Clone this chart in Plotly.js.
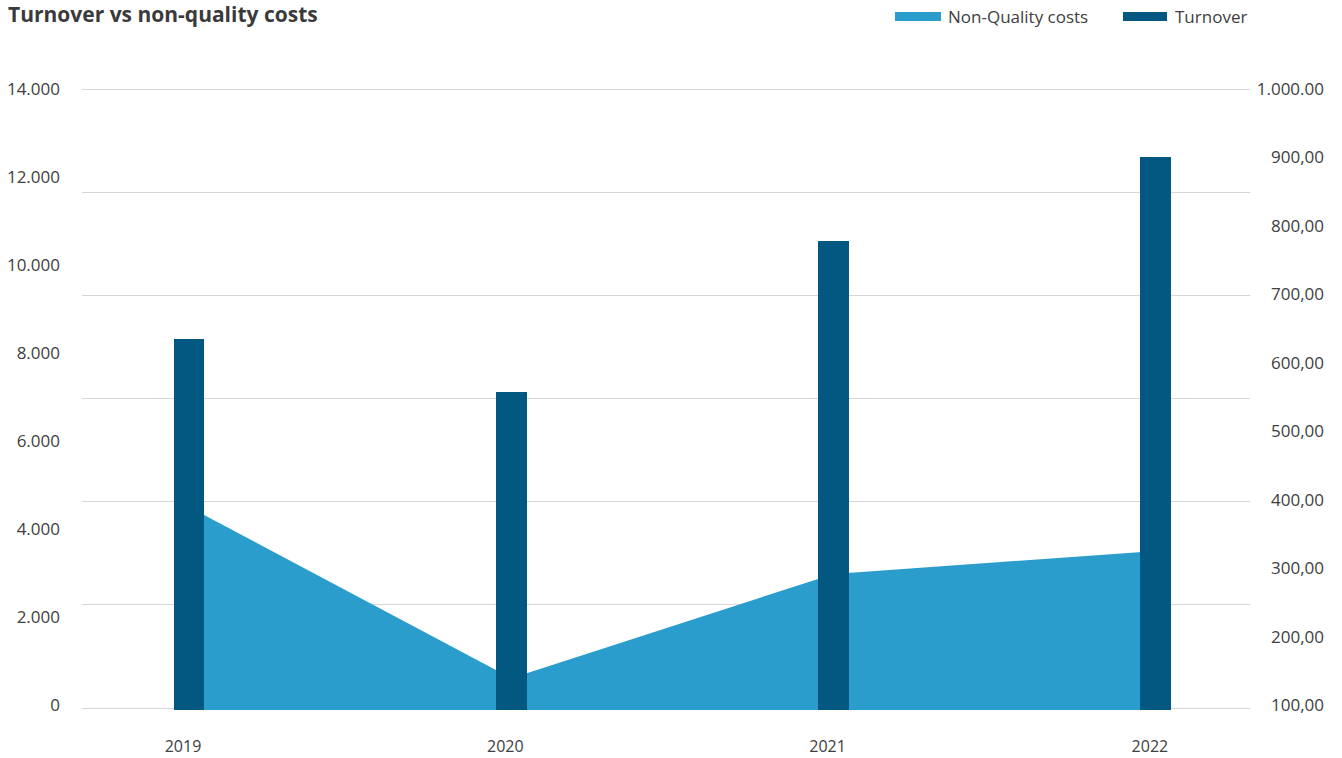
<!DOCTYPE html>
<html>
<head>
<meta charset="utf-8">
<script src="https://cdn.plot.ly/plotly-3.0.1.min.js"></script>
<style>
  html, body { margin: 0; padding: 0; background: #ffffff; }
  #chart { width: 1342px; height: 758px; }
</style>
</head>
<body>
<div id="chart"></div>
<script>
// ---- data ----
const years = ['2019', '2020', '2021', '2022'];
const nonQualityCosts = [4500, 610, 2980, 3500];
const turnover = [635, 557, 778, 901];
const seriesNames = ['Non-Quality costs', 'Turnover'];
const leftTickVals = [0, 2000, 4000, 6000, 8000, 10000, 12000, 14000];
const leftTickText = ['0', '2.000', '4.000', '6.000', '8.000', '10.000', '12.000', '14.000'];
const rightTickVals = [100, 200, 300, 400, 500, 600, 700, 800, 900, 1000];
const rightTickText = ['100,00', '200,00', '300,00', '400,00', '500,00', '600,00', '700,00', '800,00', '900,00', '1.000.00'];
const chartTitle = 'Turnover vs non-quality costs';

// ---- style ----
const W = 1342, H = 758;
const M = { l: 82, r: 18, t: 87, b: 48 };
const PW = W - M.l - M.r, PH = H - M.t - M.b;
const xDomainEnd = 1168 / PW;
const LEFT_MIN = -113.6, LEFT_MAX = 14045.5;
const RIGHT_MIN = 92.69, RIGHT_MAX = 1002.92;
const GRID_MIN = -0.0194, GRID_MAX = 6.0194;
const C_AREA = '#2B9DCD';
const C_BAR = '#035882';
const C_TEXT = '#404040';
const FONT = 'Open Sans, Noto Sans, sans-serif';

const px2x = p => (p - M.l) / PW;
const px2y = p => (H - M.b - p) / PH;

const traces = [
  { // gridline helper axis (no marks)
    x: [], y: [], type: 'scatter', mode: 'lines', xaxis: 'x', yaxis: 'y3',
    showlegend: false, hoverinfo: 'skip'
  },
  { // baseline for the area fill (axis bottom)
    x: years, y: years.map(() => LEFT_MIN), type: 'scatter', mode: 'lines',
    line: { width: 0, color: C_AREA },
    xaxis: 'x', yaxis: 'y', showlegend: false, hoverinfo: 'skip'
  },
  {
    x: years, y: nonQualityCosts, name: seriesNames[0], type: 'scatter', mode: 'lines',
    line: { width: 0, color: C_AREA },
    fill: 'tonexty', fillcolor: C_AREA, xaxis: 'x', yaxis: 'y', showlegend: false
  },
  {
    x: years, y: turnover, name: seriesNames[1], type: 'bar',
    width: 0.096, marker: { color: C_BAR, line: { width: 0 } },
    xaxis: 'x', yaxis: 'y2', showlegend: false
  }
];

// custom legend
const legendItems = [
  { name: seriesNames[0], color: C_AREA, x0: 895, x1: 941, tx: 946 },
  { name: seriesNames[1], color: C_BAR, x0: 1123, x1: 1167, tx: 1173 }
];
const shapes = legendItems.map(it => ({
  type: 'rect', xref: 'paper', yref: 'paper',
  x0: px2x(it.x0), x1: px2x(it.x1), y0: px2y(21), y1: px2y(12),
  fillcolor: it.color, line: { width: 0 }
}));
const annotations = legendItems.map(it => ({
  xref: 'paper', yref: 'paper', x: px2x(it.tx), y: px2y(16),
  xanchor: 'left', yanchor: 'middle', showarrow: false,
  text: it.name, font: { family: FONT, size: 17, color: C_TEXT }
}));

const layout = {
  width: W, height: H,
  margin: M,
  paper_bgcolor: '#ffffff', plot_bgcolor: 'rgba(0,0,0,0)',
  showlegend: false,
  font: { family: FONT, size: 16, color: C_TEXT },
  title: {
    text: '<b>' + chartTitle + '</b>',
    xref: 'container', yref: 'container',
    x: 8 / W, y: 1 - 15 / H, xanchor: 'left', yanchor: 'middle',
    font: { family: FONT, size: 21, color: '#3a3a3a' }
  },
  xaxis: {
    type: 'category', domain: [0, xDomainEnd], range: [-0.332, 3.292],
    showgrid: false, zeroline: false, showline: false, ticks: '',
    tickfont: { family: FONT, size: 16, color: C_TEXT },
    ticklabelstandoff: 25, ticklabelshift: -6, fixedrange: true
  },
  yaxis: {
    range: [LEFT_MIN, LEFT_MAX], tickvals: leftTickVals, ticktext: leftTickText,
    showgrid: false, zeroline: false, showline: false, ticks: '',
    tickfont: { family: FONT, size: 17, color: C_TEXT },
    ticklabelstandoff: 21, fixedrange: true
  },
  yaxis2: {
    overlaying: 'y', side: 'left', anchor: 'free', position: 1,
    range: [RIGHT_MIN, RIGHT_MAX], tickvals: rightTickVals, ticktext: rightTickText,
    showgrid: false, zeroline: false, showline: false, ticks: '',
    tickfont: { family: FONT, size: 17, color: C_TEXT }, fixedrange: true
  },
  yaxis3: {
    overlaying: 'y', anchor: 'x', side: 'left',
    range: [GRID_MIN, GRID_MAX], dtick: 1, tick0: 0,
    showgrid: true, gridcolor: '#d6d6d6', gridwidth: 1,
    zeroline: false, showline: false, showticklabels: false, ticks: '', fixedrange: true
  },
  shapes: shapes,
  annotations: annotations,
  bargap: 0
};

Plotly.newPlot('chart', traces, layout, { displayModeBar: false, staticPlot: true });
</script>
</body>
</html>
